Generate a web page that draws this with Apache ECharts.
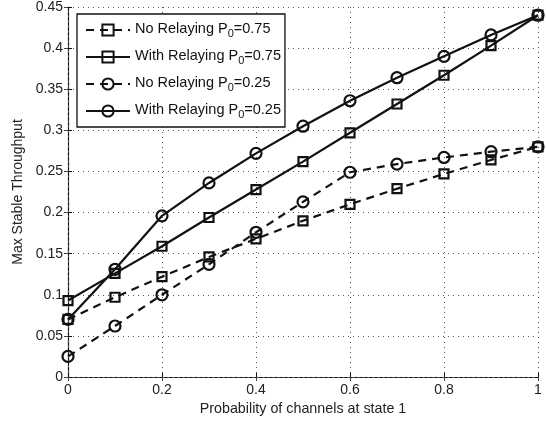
<!DOCTYPE html>
<html>
<head>
<meta charset="utf-8">
<script src="https://cdn.jsdelivr.net/npm/echarts@6/dist/echarts.min.js"></script>
<style>html,body{margin:0;padding:0;background:#fff;}#c{width:546px;height:422px;}</style>
</head>
<body>
<div id="c"></div>
<script>
var xValues = [0, 0.1, 0.2, 0.3, 0.4, 0.5, 0.6, 0.7, 0.8, 0.9, 1];
var noRelay075 = [0.070, 0.097, 0.122, 0.146, 0.168, 0.190, 0.210, 0.229, 0.247, 0.264, 0.280];
var withRelay075 = [0.093, 0.126, 0.159, 0.194, 0.228, 0.262, 0.297, 0.332, 0.367, 0.403, 0.440];
var noRelay025 = [0.025, 0.062, 0.100, 0.137, 0.176, 0.213, 0.249, 0.259, 0.267, 0.274, 0.280];
var withRelay025 = [0.070, 0.131, 0.196, 0.236, 0.272, 0.305, 0.336, 0.364, 0.390, 0.416, 0.440];
var seriesNames = ['No Relaying P_0=0.75', 'With Relaying P_0=0.75', 'No Relaying P_0=0.25', 'With Relaying P_0=0.25'];
var xTicks = [0, 0.2, 0.4, 0.6, 0.8, 1];
var yTicks = [0, 0.05, 0.1, 0.15, 0.2, 0.25, 0.3, 0.35, 0.4, 0.45];

function pairs(ys) { return xValues.map(function (x, i) { return [x, ys[i]]; }); }

var FONT = '"Liberation Sans", Arial, sans-serif';
function mk(name, data, dashed, symbol) {
  return {
    name: name, type: 'line', data: pairs(data),
    symbol: symbol, symbolSize: symbol === 'circle' ? 11 : 9,
    lineStyle: { color: '#111', width: 2.2, type: dashed ? [8, 6] : 'solid' },
    itemStyle: { color: 'rgba(255,255,255,0)', borderColor: '#111', borderWidth: 2.2 },
    emphasis: { disabled: true }, animation: false, z: 3
  };
}

var chart = echarts.init(document.getElementById('c'), null, { renderer: 'canvas' });
chart.setOption({
  backgroundColor: '#fff',
  animation: false,
  textStyle: { fontFamily: FONT },
  grid: { left: 68, right: 8, top: 6, bottom: 45 },
  legend: {
    orient: 'vertical', left: 77, top: 14,
    padding: [7, 4, 7, 8], itemGap: 9,
    itemWidth: 44, itemHeight: 14,
    backgroundColor: '#fff', borderColor: '#111', borderWidth: 1.3,
    data: seriesNames,
    formatter: function (n) {
      var p = n.split('_');
      return '{a|' + p[0] + '}{s|' + p[1].charAt(0) + '}{a|' + p[1].slice(1) + '}';
    },
    textStyle: {
      fontFamily: FONT, fontSize: 14.5, color: '#111',
      rich: {
        a: { fontFamily: FONT, fontSize: 14.5, color: '#111', verticalAlign: 'top', lineHeight: 18 },
        s: { fontFamily: FONT, fontSize: 11, color: '#111', verticalAlign: 'bottom', lineHeight: 13, padding: [7, 0, 0, 0] }
      }
    }
  },
  xAxis: [{
    type: 'value', min: 0, max: 1, interval: 0.2,
    name: 'Probability of channels at state 1', nameLocation: 'middle', nameGap: 24,
    nameTextStyle: { fontFamily: FONT, fontSize: 14.3, color: '#222' },
    axisLine: { onZero: false, lineStyle: { color: '#111', width: 1.2 } },
    axisTick: { inside: true, length: 4, lineStyle: { color: '#111' } },
    axisLabel: { fontFamily: FONT, fontSize: 14, color: '#222', margin: 6,
      formatter: function (v) { return xTicks.indexOf(Math.round(v * 10) / 10) >= 0 ? String(Math.round(v * 10) / 10) : ''; } },
    splitLine: { show: true, lineStyle: { color: '#555', type: [1, 4], width: 1 } }
  }, {
    type: 'value', min: 0, max: 1, interval: 0.2, position: 'top',
    axisLine: { show: true, lineStyle: { color: '#666', type: [1, 4], width: 1 } },
    axisTick: { inside: true, length: 4, lineStyle: { color: '#444' } },
    axisLabel: { show: false }, splitLine: { show: false }
  }],
  yAxis: [{
    type: 'value', min: 0, max: 0.45, interval: 0.05,
    name: 'Max Stable Throughput', nameLocation: 'middle', nameGap: 41,
    nameTextStyle: { fontFamily: FONT, fontSize: 14, color: '#222' },
    axisLine: { show: true, onZero: false, lineStyle: { color: '#111', width: 1.2 } },
    axisTick: { show: true, inside: true, length: 4, lineStyle: { color: '#111' } },
    axisLabel: { fontFamily: FONT, fontSize: 14, color: '#222', margin: 5,
      formatter: function (v) { return String(Math.round(v * 100) / 100); } },
    splitLine: { show: true, lineStyle: { color: '#555', type: [1, 4], width: 1 } }
  }, {
    type: 'value', min: 0, max: 0.45, interval: 0.05, position: 'right',
    axisLine: { show: true, lineStyle: { color: '#666', type: [1, 4], width: 1 } },
    axisTick: { show: true, inside: true, length: 4, lineStyle: { color: '#444' } },
    axisLabel: { show: false }, splitLine: { show: false }
  }],
  series: [
    mk(seriesNames[0], noRelay075, true, 'rect'),
    mk(seriesNames[1], withRelay075, false, 'rect'),
    mk(seriesNames[2], noRelay025, true, 'circle'),
    mk(seriesNames[3], withRelay025, false, 'circle')
  ]
});
</script>
</body>
</html>
